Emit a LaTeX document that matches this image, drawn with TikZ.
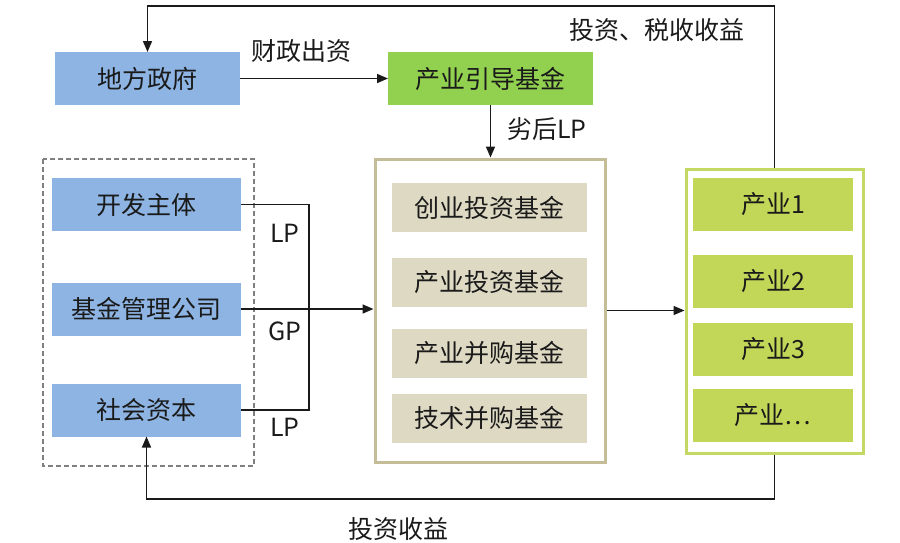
\documentclass[tikz,border=0pt]{standalone}
\usepackage{fontspec}
\setmainfont{Noto Sans CJK SC}
\usetikzlibrary{arrows.meta}
\definecolor{govblue}{RGB}{141,180,226}
\definecolor{guidegreen}{RGB}{146,208,80}
\definecolor{fundtan}{RGB}{196,189,151}
\definecolor{fundfill}{RGB}{221,217,195}
\definecolor{indgreen}{RGB}{194,214,88}
\definecolor{indframe}{RGB}{196,216,100}
\definecolor{txt}{RGB}{26,26,26}
\tikzset{
  box/.style={inner sep=0pt, outer sep=0pt, text=txt, font=\fontsize{25}{30}\selectfont},
  bluebox/.style={box, fill=govblue, minimum width=189pt, minimum height=53pt},
  fundbox/.style={box, fill=fundfill, minimum width=195pt, minimum height=49pt},
  indbox/.style={box, fill=indgreen, minimum width=160pt, minimum height=53pt},
  flow/.style={line width=1.6pt, draw=txt, -{Triangle[length=11pt,width=9pt]}},
  wire/.style={line width=1.6pt, draw=txt},
  lbl/.style={text=txt, inner sep=0pt, font=\fontsize{25}{30}\selectfont},
}

\begin{document}
\begin{tikzpicture}[x=1pt, y=-1pt]
	\useasboundingbox (0,0) rectangle (900,542);
	% lignes de retour, en haut et en bas
	\coordinate (topline) at (0,6);
	\coordinate (botline) at (0,499);
	\coordinate (join) at (309,0);
	% gouvernement et fonds d'orientation
	\node[box, fill=govblue, minimum width=185pt, minimum height=53pt] (gov) at (147.5,78.5) {地方政府};
	\node[box, fill=guidegreen, minimum width=205pt, minimum height=53pt] (guide) at (490.5,78.5) {产业引导基金};
	% cadre gauche (pointille)
	\draw[draw=gray, dash pattern=on 5pt off 3pt, line width=1.3pt] (43,159) rectangle (254,466);
	\node[bluebox] (dev) at (146.5,204.5) {开发主体};
	\node[bluebox] (mgr) at (146.5,309) {基金管理公司};
	\node[bluebox] (soc) at (146.5,410) {社会资本};
	% cadre du milieu : les fonds
	\node[draw=fundtan, line width=3pt, inner sep=0pt, minimum width=230pt, minimum height=303pt] (mid) at (490,310.5) {};
	\node[fundbox] (venture) at (489.5,207.5) {创业投资基金};
	\node[fundbox] (indinv) at (489.5,282) {产业投资基金};
	\node[fundbox] (merger) at (489.5,353) {产业并购基金};
	\node[fundbox] (tech) at (489.5,418) {技术并购基金};
	% cadre de droite : les industries
	\node[draw=indframe, line width=3pt, inner sep=0pt, minimum width=177pt, minimum height=284pt] (ind) at (774.5,311) {};
	\node[indbox] (ind1) at (773,204.5) {产业1};
	\node[indbox] (ind2) at (773,281.5) {产业2};
	\node[indbox] (ind3) at (773,349.5) {产业3};
	\node[indbox] (indn) at (773,415.5) {产业…};
	% les fleches
	\draw[flow] (gov.east) -- (guide.west);
	\draw[flow] (guide.south) -- (guide.south |- mid.north);
	\draw[wire] (dev.east) -- (dev.east -| join) -- (soc.east -| join) -- (soc.east);
	\draw[flow] (mgr.east) -- (mgr.east -| mid.west);
	\draw[flow] (mid.east) -- (mid.east -| ind.west);
	\draw[flow] (ind.north) -- (ind.north |- topline) -- (gov.north |- topline) -- (gov.north);
	\draw[flow] (ind.south) -- (ind.south |- botline) -- (soc.south |- botline) -- (soc.south);
	% les etiquettes
	\node[lbl] (fiscal) at (301,51) {财政出资};
	\node[lbl] (taxret) at (657,30) {投资、税收收益};
	\node[lbl] (junior) at (547,129) {劣后LP};
	\node[lbl] (lpa) at (285,233) {LP};
	\node[lbl] (gp) at (285,331) {GP};
	\node[lbl] (lpb) at (285,427) {LP};
	\node[lbl] (invret) at (398,529) {投资收益};
\end{tikzpicture}
\end{document}
